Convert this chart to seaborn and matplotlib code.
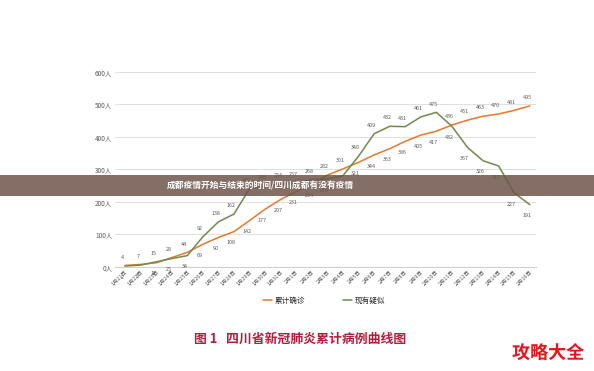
import matplotlib
matplotlib.use("Agg")
import matplotlib.pyplot as plt
import seaborn as sns
import pandas as pd
from matplotlib.patches import Rectangle
import matplotlib.patheffects as pe

dates = ["1月21日", "1月22日", "1月23日", "1月24日", "1月25日", "1月26日", "1月27日",
         "1月28日", "1月29日", "1月30日", "1月31日", "2月1日", "2月2日", "2月3日",
         "2月4日", "2月5日", "2月6日", "2月7日", "2月8日", "2月9日", "2月10日",
         "2月11日", "2月12日", "2月13日", "2月14日", "2月15日", "2月16日"]
confirmed = [4, 7, 12, 28, 44, 69, 90, 108, 142, 177, 207, 231, 254, 282, 301, 321,
             344, 363, 386, 405, 417, 436, 451, 463, 470, 481, 495]
suspected = [2, 5, 15, 25, 34, 92, 138, 162, 240, 248, 254, 257, 268, 270, 280, 340,
             409, 432, 431, 461, 475, 432, 367, 326, 310, 227, 191]
series_names = ["累计确诊", "现有疑似"]
y_ticks = [0, 100, 200, 300, 400, 500, 600]
y_tick_labels = ["0人", "100人", "200人", "300人", "400人", "500人", "600人"]
caption = "图 1   四川省新冠肺炎累计病例曲线图"
banner_text = "成都疫情开始与结束的时间/四川成都有没有疫情"
watermark = "攻略大全"

sns.set_style("white")
plt.rcParams['font.family'] = ['Noto Sans CJK SC', 'DejaVu Sans']

df = pd.DataFrame({
    "idx": list(range(len(dates))) * 2,
    "value": confirmed + suspected,
    "series": [series_names[0]] * len(dates) + [series_names[1]] * len(dates),
})

colors = {series_names[0]: "#e8772e", series_names[1]: "#6e8b4a"}

fig = plt.figure(figsize=(5.94, 3.71), dpi=100)
ax = fig.add_axes([0.1936, 0.2811, 0.7088, 0.5256])
sns.lineplot(data=df, x="idx", y="value", hue="series", palette=colors,
             linewidth=1.1, ax=ax, legend=False, sort=False)

ax.set_xlim(-0.64, 26.4)
ax.set_ylim(0, 600)
ax.set_yticks(y_ticks)
ax.set_yticklabels(y_tick_labels, fontsize=4.6, color="#595959")
ax.set_xticks(range(len(dates)))
ax.set_xticklabels(dates, fontsize=3.9, color="#595959", rotation=45,
                   ha="right", rotation_mode="anchor")
ax.tick_params(axis="both", length=0, pad=2)
ax.grid(axis="y", color="#e0e0e0", linewidth=0.7)
for s in ["top", "right", "left"]:
    ax.spines[s].set_visible(False)
ax.spines["bottom"].set_color("#d0d0d0")
ax.spines["bottom"].set_linewidth(0.8)
ax.set_xlabel("")
ax.set_ylabel("")

# data labels
for i in range(len(dates)):
    c, s = confirmed[i], suspected[i]
    for v, other in ((c, s), (s, c)):
        off = 6 if v >= other else -8
        ax.annotate(str(v), (i, v), xytext=(-2, off), textcoords="offset points",
                    ha="center", va="center", fontsize=3.9, color="#595959")

# legend
handles = [plt.Line2D([], [], color=colors[n], linewidth=1.1) for n in series_names]
fig.legend(handles, series_names, loc="center", bbox_to_anchor=(0.545, 0.19),
           ncol=2, frameon=False, fontsize=5.5, handlelength=1.2, handletextpad=0.3,
           columnspacing=5.0)

# caption
fig.text(0.505, 0.088, caption, ha="center", va="center", fontsize=9.3,
         color="#b41e3c", fontweight="bold")

# banner overlay
fig.patches.append(Rectangle((0, 1 - 196 / 371), 1, 21 / 371, transform=fig.transFigure,
                             facecolor="#6e554b", alpha=0.85, edgecolor="none", zorder=10))
fig.text(260 / 594, 1 - 186 / 371, banner_text, ha="center", va="center", fontsize=6.3,
         color="white", fontweight="bold", zorder=11)

# watermark
fig.text(548 / 594, 1 - 353 / 371, watermark, ha="center", va="center", fontsize=13,
         color="#e8141c", fontweight="bold", zorder=11,
         path_effects=[pe.withStroke(linewidth=2, foreground="white")])

fig.savefig("out.png", dpi=100, facecolor="white")
